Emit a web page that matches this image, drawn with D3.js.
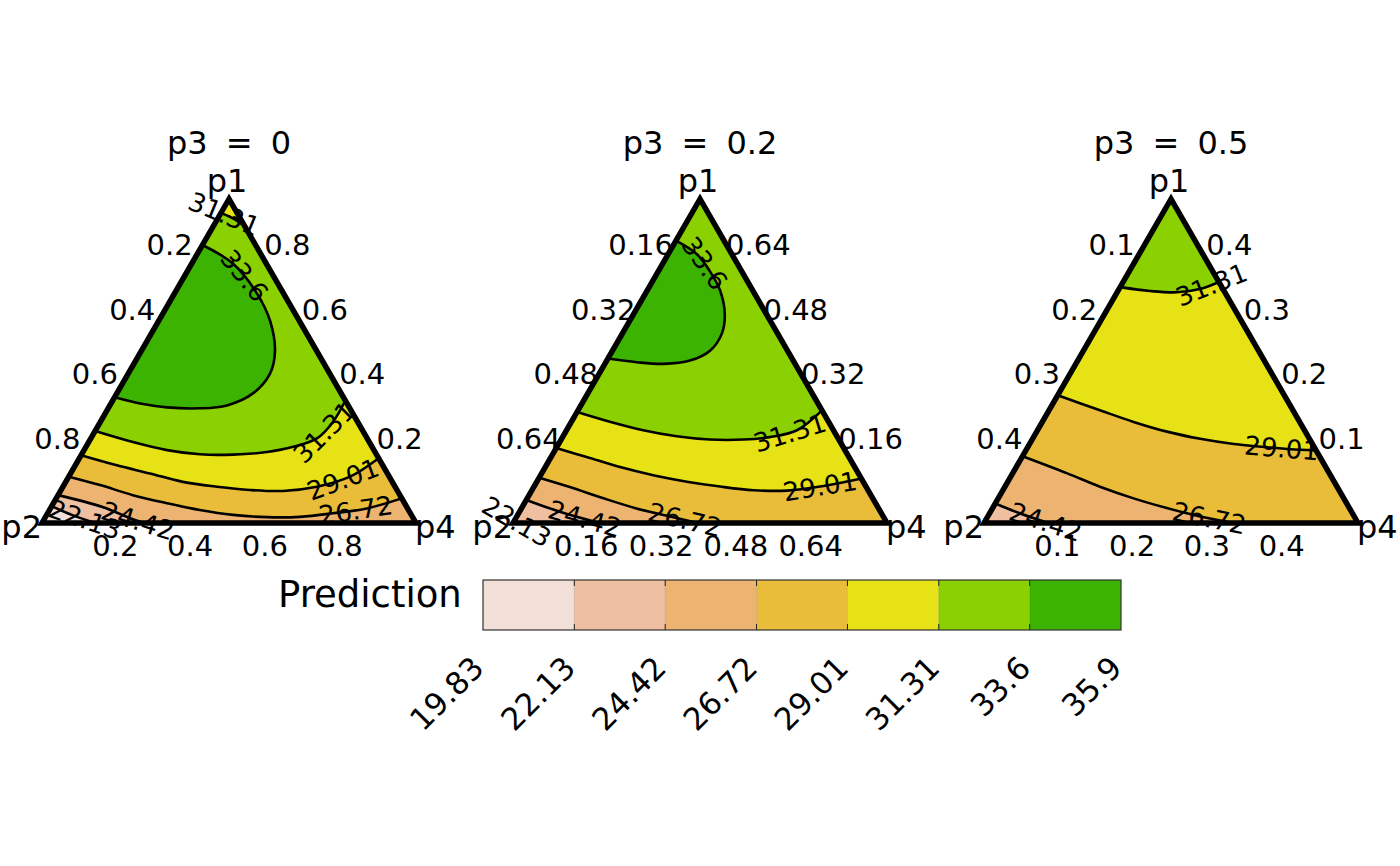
<!DOCTYPE html>
<html><head><meta charset="utf-8">
<script src="https://cdn.jsdelivr.net/npm/d3@7"></script>
<style>
body{margin:0;background:#fff}
text{font-family:"DejaVu Sans",sans-serif;fill:#000}
</style>
</head><body>
<svg id="chart" width="1400" height="866"></svg>
<script>
// ---------------- data ----------------
const panels = [0, 0.2, 0.5];                 // p3 value of each panel
const panelTitles = ["p3 = 0", "p3 = 0.2", "p3 = 0.5"];
const vertexNames = ["p1", "p2", "p4"];
const breaks = [19.83, 22.13, 24.42, 26.72, 29.01, 31.31, 33.6, 35.9];
const breakLabels = ["19.83", "22.13", "24.42", "26.72", "29.01", "31.31", "33.6", "35.9"];
const bandColors = ["#F2DFD8", "#EFBFA2", "#ECB371", "#E9BD3A", "#E6E215", "#8BD000", "#3CB300"];
const ticks0 = [0.2, 0.4, 0.6, 0.8];
const ticks1 = [0.16, 0.32, 0.48, 0.64];
const ticks2 = [0.1, 0.2, 0.3, 0.4];
const tickLabels0 = ["0.2", "0.4", "0.6", "0.8"];
const tickLabels1 = ["0.16", "0.32", "0.48", "0.64"];
const tickLabels2 = ["0.1", "0.2", "0.3", "0.4"];

// contour lines; points are [p1, p4] (p2 = 1 - p3 - p1 - p4)
// "low" = a corner lying on the lower-valued side of the line
const contours0 = [
  {level: 33.6, low: "L", pts: [[0.858,0],[0.8,0.111],[0.708,0.221],[0.625,0.297],[0.532,0.357],[0.462,0.379],[0.4,0.364],[0.363,0.313],[0.354,0.245],[0.357,0.156],[0.369,0.078],[0.388,0]]},
  {level: 31.31, low: "A", pts: [[0.957,0],[0.942,0.037],[0.917,0.083]]},
  {level: 31.31, low: "L", pts: [[0.284,0],[0.25,0.118],[0.225,0.222],[0.212,0.316],[0.211,0.405],[0.219,0.492],[0.235,0.554],[0.262,0.605],[0.312,0.622],[0.378,0.622]]},
  {level: 29.01, low: "L", pts: [[0.209,0],[0.178,0.111],[0.153,0.212],[0.127,0.313],[0.112,0.412],[0.102,0.505],[0.099,0.595],[0.112,0.679],[0.143,0.752],[0.2,0.8]]},
  {level: 26.72, low: "L", pts: [[0.143,0],[0.117,0.097],[0.086,0.2],[0.061,0.304],[0.04,0.402],[0.025,0.498],[0.018,0.593],[0.019,0.68],[0.03,0.763],[0.045,0.846],[0.076,0.924]]},
  {level: 24.42, low: "L", pts: [[0.086,0],[0.05,0.135],[0.009,0.244],[0,0.275]]},
  {level: 22.13, low: "L", pts: [[0.052,0],[0.025,0.067],[0,0.142]]}
];
const contours1 = [
  {level: 33.6, low: "L", pts: [[0.697,0],[0.664,0.061],[0.622,0.110],[0.574,0.156],[0.516,0.195],[0.467,0.213],[0.426,0.209],[0.401,0.178],[0.393,0.125],[0.397,0.066],[0.406,0]]},
  {level: 31.31, low: "L", pts: [[0.274,0],[0.250,0.082],[0.229,0.164],[0.214,0.243],[0.206,0.318],[0.206,0.390],[0.212,0.443],[0.229,0.493],[0.278,0.522]]},
  {level: 29.01, low: "L", pts: [[0.185,0],[0.163,0.076],[0.138,0.16],[0.118,0.241],[0.102,0.321],[0.090,0.398],[0.081,0.474],[0.080,0.546],[0.090,0.612],[0.110,0.690]]},
  {level: 26.72, low: "L", pts: [[0.112,0],[0.089,0.077],[0.061,0.163],[0.036,0.246],[0.016,0.328],[0,0.395]]},
  {level: 24.42, low: "L", pts: [[0.057,0],[0.028,0.086],[0,0.185]]},
  {level: 22.13, low: "L", pts: [[0.006,0],[0,0.012]]}
];
const contours2 = [
  {level: 31.31, low: "L", pts: [[0.364,0],[0.358,0.043],[0.356,0.080],[0.361,0.108],[0.372,0.128]]},
  {level: 29.01, low: "L", pts: [[0.197,0],[0.174,0.068],[0.156,0.122],[0.141,0.174],[0.130,0.224],[0.122,0.273],[0.117,0.320],[0.113,0.366],[0.112,0.388]]},
  {level: 26.72, low: "L", pts: [[0.103,0],[0.077,0.072],[0.056,0.127],[0.038,0.181],[0.023,0.233],[0.010,0.284],[0,0.333]]},
  {level: 24.42, low: "L", pts: [[0.030,0],[0.015,0.040],[0,0.086]]}
];

// ---------------- layout / style ----------------
const allContours = [contours0, contours1, contours2];
const allTicks = [ticks0, ticks1, ticks2];
const allTickLabels = [tickLabels0, tickLabels1, tickLabels2];
const labelAt = [[0.16, 0.12, 0.86, 0.865, 0.86, 0.92, 0.77],
                 [0.155, 0.845, 0.865, 0.92, 0.8, 0.5],
                 [0.92, 0.87, 0.89, 0.95]];
const triTop = 199, triBottom = 523, halfW = 187;

const svg = d3.select("#chart");
const defs = svg.append("defs");
const centerX = d3.scalePoint().domain(panels).range([229, 1171]);

panels.forEach((p3, pi) => {
  const norm = d3.scaleLinear().domain([0, 1 - p3]).range([0, 1]);
  const xs = d3.scaleLinear().domain([0, 1]).range([centerX(p3) - halfW, centerX(p3) + halfW]);
  const ys = d3.scaleLinear().domain([0, 1]).range([triBottom, triTop]);
  const P = (u1, u4) => [xs(u4 + u1 / 2), ys(u1)];
  const corners = {A: [1, 0], L: [0, 0], R: [0, 1]};
  const cornerOrder = ["A", "L", "R"];
  const cornerPx = k => P(corners[k][0], corners[k][1]);
  const A = cornerPx("A"), L = cornerPx("L"), R = cornerPx("R");
  const triPath = `M${A}L${L}L${R}Z`;

  defs.append("clipPath").attr("id", "clip" + pi).append("path").attr("d", triPath);

  const contours = allContours[pi].map(c => ({...c, n: c.pts.map(d => [norm(d[0]), norm(d[1])])}));
  const line = d3.line().x(d => P(d[0], d[1])[0]).y(d => P(d[0], d[1])[1]).curve(d3.curveCatmullRom.alpha(0.5));

  // perimeter parameter: A->L [0,1], L->R [1,2], R->A [2,3]
  const perim = ([u1, u4]) => {
    const d = [u4, u1, 1 - u1 - u4];
    const e = d.indexOf(d3.min(d));
    return e === 0 ? 1 - u1 : e === 1 ? 1 + u4 : 2 + u1;
  };
  const lowPath = c => {
    const s0 = perim(c.n[0]), s1 = perim(c.n[c.n.length - 1]);
    const fwd = [], bwd = [];
    const tf = s0 > s1 ? s0 : s0 + 3;
    for (let v = Math.floor(s1) + 1; v < tf; v++) fwd.push(cornerOrder[v % 3]);
    const tb = s0 < s1 ? s0 : s0 - 3;
    for (let v = Math.ceil(s1) - 1; v > tb; v--) bwd.push(cornerOrder[((v % 3) + 3) % 3]);
    const verts = fwd.includes(c.low) ? fwd : bwd;
    return line(c.n) + verts.map(k => "L" + cornerPx(k)).join("") + "Z";
  };

  const g = svg.append("g");
  const fillG = g.append("g").attr("clip-path", `url(#clip${pi})`);
  const maxLevel = d3.max(contours, c => c.level);
  fillG.append("path").attr("d", triPath).attr("fill", bandColors[breaks.indexOf(maxLevel)]);
  const sorted = contours.slice().sort((a, b) => b.level - a.level);
  fillG.selectAll("path.band").data(sorted).join("path").attr("class", "band")
    .attr("d", lowPath)
    .attr("fill", c => bandColors[breaks.indexOf(c.level) - 1]);

  const lineSel = fillG.selectAll("path.cline").data(contours).join("path").attr("class", "cline")
    .attr("d", c => line(c.n)).attr("fill", "none").attr("stroke", "#000").attr("stroke-width", 2.6);

  // border
  g.append("path").attr("d", triPath).attr("fill", "none").attr("stroke", "#000")
    .attr("stroke-width", 5.5).attr("stroke-linejoin", "miter");

  // contour labels
  lineSel.each(function (c, ci) {
    const len = this.getTotalLength();
    const at = labelAt[pi][ci] * len;
    const p = this.getPointAtLength(at);
    const a = this.getPointAtLength(Math.max(0, at - 3)), b = this.getPointAtLength(Math.min(len, at + 3));
    let ang = Math.atan2(b.y - a.y, b.x - a.x) * 180 / Math.PI;
    if (ang > 90) ang -= 180; if (ang < -90) ang += 180;
    g.append("text").attr("transform", `translate(${p.x},${p.y}) rotate(${ang})`)
      .attr("text-anchor", "middle").attr("dominant-baseline", "central")
      .attr("font-size", 26).text(breakLabels[breaks.indexOf(c.level)]);
  });

  // axis tick labels
  const ticks = allTicks[pi], tl = allTickLabels[pi];
  ticks.forEach((t, ti) => {
    const u = norm(t);
    const lp = P(1 - u, 0);   // p2 axis on left edge
    g.append("text").attr("x", lp[0] - 22).attr("y", lp[1] - 19).attr("text-anchor", "middle")
      .attr("dominant-baseline", "central").attr("font-size", 29).text(tl[ti]);
    const rp = P(u, 1 - u);   // p1 axis on right edge
    g.append("text").attr("x", rp[0] + 21).attr("y", rp[1] - 19).attr("text-anchor", "middle")
      .attr("dominant-baseline", "central").attr("font-size", 29).text(tl[ti]);
    const bp = P(0, u);       // p4 axis on bottom edge
    g.append("text").attr("x", bp[0] - 1.5).attr("y", bp[1] + 23).attr("text-anchor", "middle")
      .attr("dominant-baseline", "central").attr("font-size", 29).text(tl[ti]);
  });

  // vertex names
  g.append("text").attr("x", A[0] - 2).attr("y", A[1] - 7).attr("text-anchor", "middle")
    .attr("font-size", 32).text(vertexNames[0]);
  g.append("text").attr("x", L[0]).attr("y", L[1] + 15).attr("text-anchor", "end")
    .attr("font-size", 32).text(vertexNames[1]);
  g.append("text").attr("x", R[0] - 1).attr("y", R[1] + 15).attr("text-anchor", "start")
    .attr("font-size", 32).text(vertexNames[2]);
  // title
  g.append("text").attr("x", centerX(p3)).attr("y", 154).attr("text-anchor", "middle")
    .attr("font-size", 32).attr("word-spacing", 8).text(panelTitles[pi]);
});

// ---------------- legend ----------------
const lx = d3.scaleLinear().domain([breaks[0], breaks[breaks.length - 1]]).range([483, 1121]);
const lg = svg.append("g");
lg.append("text").attr("x", 278).attr("y", 607).attr("font-size", 37).text("Prediction");
lg.selectAll("rect.bin").data(bandColors).join("rect").attr("class", "bin")
  .attr("x", (d, i) => lx(breaks[i])).attr("y", 580)
  .attr("width", (d, i) => lx(breaks[i + 1]) - lx(breaks[i])).attr("height", 50)
  .attr("fill", d => d);
const inner = breaks.slice(1, -1);
lg.selectAll("line.sep").data(inner).join("line").attr("class", "sep")
  .attr("x1", d => lx(d)).attr("x2", d => lx(d)).attr("y1", 580).attr("y2", 630)
  .attr("stroke", "#000").attr("stroke-opacity", 0.12).attr("stroke-width", 1);
lg.selectAll("line.tt").data(inner).join("line").attr("class", "tt")
  .attr("x1", d => lx(d)).attr("x2", d => lx(d)).attr("y1", 580).attr("y2", 586)
  .attr("stroke", "#222").attr("stroke-width", 1);
lg.selectAll("line.tb").data(inner).join("line").attr("class", "tb")
  .attr("x1", d => lx(d)).attr("x2", d => lx(d)).attr("y1", 624).attr("y2", 630)
  .attr("stroke", "#222").attr("stroke-width", 1);
lg.append("rect").attr("x", lx(breaks[0])).attr("y", 580)
  .attr("width", lx(breaks[breaks.length - 1]) - lx(breaks[0])).attr("height", 50)
  .attr("fill", "none").attr("stroke", "#333").attr("stroke-width", 1.2);
lg.selectAll("text.lt").data(breaks).join("text").attr("class", "lt")
  .attr("transform", (d, i) => `translate(${lx(d) - 5},662) rotate(-45)`)
  .attr("text-anchor", "end").attr("dominant-baseline", "central").attr("font-size", 31)
  .text((d, i) => breakLabels[i]);
</script>
</body></html>
